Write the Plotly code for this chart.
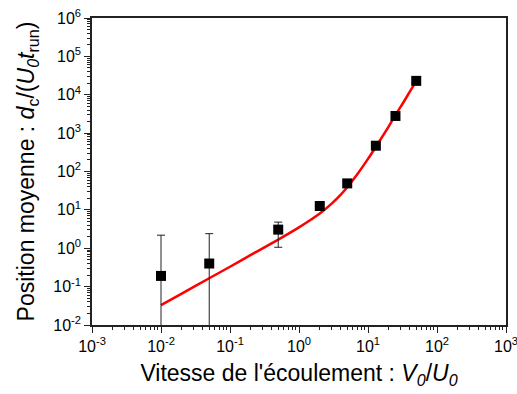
import plotly.graph_objects as go

# Measured data points
x_pts = [0.01, 0.05, 0.5, 2, 5, 13, 25, 50]
y_pts = [0.19, 0.40, 3.06, 12.6, 49, 470, 2800, 23000]
err_plus = [2.0, 2.0, 1.74, 0, 0, 0, 0, 0]
err_minus = [0.189, 0.399, 2.0, 0, 0, 0, 0, 0]

# Fit curve
x_fit = [0.01, 0.02, 0.05, 0.1, 0.2, 0.5, 1, 1.5, 2, 3, 4, 5, 7, 10, 13, 17, 20, 25, 30, 40, 50]
y_fit = [0.033, 0.066, 0.165, 0.33, 0.67, 1.68, 3.5, 5.6, 8, 14.8, 24.7, 39, 85, 213, 440, 940,
         1500, 3000, 4960, 11650, 22700]

x_tickvals = [1e-3, 1e-2, 1e-1, 1, 10, 100, 1000]
x_ticktext = ["10<sup>-3</sup>", "10<sup>-2</sup>", "10<sup>-1</sup>", "10<sup>0</sup>",
              "10<sup>1</sup>", "10<sup>2</sup>", "10<sup>3</sup>"]
y_tickvals = [1e-2, 1e-1, 1, 10, 100, 1e3, 1e4, 1e5, 1e6]
y_ticktext = ["10<sup>-2</sup>", "10<sup>-1</sup>", "10<sup>0</sup>", "10<sup>1</sup>",
              "10<sup>2</sup>", "10<sup>3</sup>", "10<sup>4</sup>", "10<sup>5</sup>", "10<sup>6</sup>"]

fig = go.Figure()
fig.add_trace(go.Scatter(
    x=x_fit, y=y_fit, mode="lines",
    line=dict(color="#ff0000", width=2.5, shape="spline", smoothing=0.8),
    showlegend=False, hoverinfo="skip"))
fig.add_trace(go.Scatter(
    x=x_pts, y=y_pts, mode="markers",
    marker=dict(symbol="square", size=10, color="black"),
    error_y=dict(type="data", array=err_plus, arrayminus=err_minus, symmetric=False,
                 color="#222222", thickness=1, width=4),
    showlegend=False))

font = "Liberation Sans, Arial, sans-serif"
axis_common = dict(
    type="log", showgrid=False, zeroline=False, automargin=False,
    showline=True, linecolor="#222222", linewidth=1.5, mirror=True,
    ticks="outside", ticklen=6, tickwidth=1, tickcolor="#222222",
    minor=dict(ticks="outside", ticklen=3, tickwidth=1, tickcolor="#222222", dtick="D1"),
    tickfont=dict(family=font, size=16, color="black"),
    ticklabeloverflow="allow",
)

fig.update_layout(
    width=517, height=394,
    margin=dict(l=92, r=11, t=18, b=69),
    paper_bgcolor="white", plot_bgcolor="white",
    font=dict(family=font, color="black"),
    xaxis=dict(axis_common, range=[-3, 3], tickvals=x_tickvals, ticktext=x_ticktext,
               title=dict(text="Vitesse de l'écoulement : <i>V<sub>0</sub></i>/<i>U<sub>0</sub></i>",
                          font=dict(family=font, size=23), standoff=11)),
    yaxis=dict(axis_common, range=[-2, 6], tickvals=y_tickvals, ticktext=y_ticktext,
               title=dict(text="Position moyenne : <i>d</i><sub>c</sub>/(<i>U<sub>0</sub>t</i><sub>run</sub>)",
                          font=dict(family=font, size=23), standoff=12)),
)

fig.write_html("out.html", config={"displayModeBar": False},
               post_script="document.body.style.margin='0px';")
